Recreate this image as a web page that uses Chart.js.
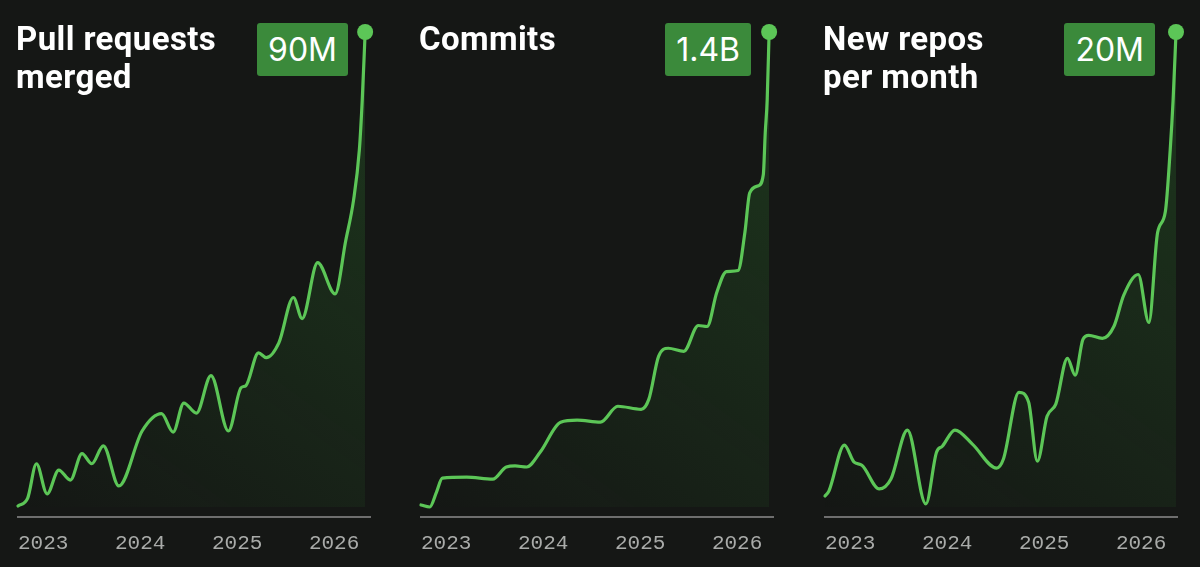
<!DOCTYPE html>
<html>
<head>
<meta charset="utf-8">
<script src="https://cdn.jsdelivr.net/npm/chart.js@4.4.1/dist/chart.umd.min.js"></script>
<style>
  html, body { margin: 0; padding: 0; background: #151715; }
  #wrap { position: relative; width: 1200px; height: 567px; overflow: hidden; }
  .panel { position: absolute; top: 0; width: 400px; height: 567px; }
  .panel canvas { position: absolute; left: 0; top: 0; }
  .title {
    position: absolute; left: 16px; top: 20px; color: #fff; white-space: pre-line;
    font: 700 33px/38px Roboto, sans-serif; letter-spacing: 0.4px;
  }
  .badge {
    position: absolute; right: 52px; top: 23px; height: 53px; padding: 0 11px;
    background: #3b8a3b; border-radius: 3px; color: #fff;
    font: 400 32px/53px Inter, sans-serif;
  }
</style>
</head>
<body>
<div id="wrap"></div>
<script>
// ---- dati ----
const panelTitles = ['Pull requests\nmerged', 'Commits', 'New repos\nper month'];
const badgeLabels = ['90M', '1.4B', '20M'];
const yearTicks = [2023, 2024, 2025, 2026];
const yearLabels = ['2023', '2024', '2025', '2026'];

// pull requests merged (milioni)
const prYears = [2023.00, 2023.10, 2023.19, 2023.30, 2023.42, 2023.54, 2023.66, 2023.76, 2023.88, 2024.04,
  2024.28, 2024.48, 2024.60, 2024.71, 2024.84, 2024.99, 2025.17, 2025.30, 2025.35, 2025.48,
  2025.56, 2025.69, 2025.84, 2025.93, 2026.09, 2026.27, 2026.38, 2026.46, 2026.52, 2026.55, 2026.58];
const prValues = [0.2, 1.7, 8.2, 2.5, 7.0, 5.1, 10.1, 8.2, 11.6, 4.0,
  14.4, 17.7, 14.2, 19.7, 17.8, 24.9, 14.4, 22.6, 23.0, 29.2,
  28.3, 31.1, 39.7, 35.7, 46.3, 40.4, 50.5, 58.1, 67.6, 77.1, 90];

// commits (milioni)
const commitYears = [2023.00, 2023.09, 2023.16, 2023.22, 2023.47, 2023.74, 2023.88, 2023.97, 2024.09, 2024.23,
  2024.44, 2024.61, 2024.85, 2025.03, 2025.27, 2025.35, 2025.45, 2025.55, 2025.71, 2025.86,
  2025.95, 2026.05, 2026.15, 2026.27, 2026.34, 2026.39, 2026.48, 2026.53, 2026.55, 2026.57, 2026.59];
const commitValues = [6, 0, 44, 85, 88, 82, 118, 121, 118, 162,
  250, 256, 250, 297, 288, 318, 444, 468, 459, 535,
  532, 632, 694, 697, 809, 926, 947, 979, 1103, 1200, 1400];

// new repos per month (milioni)
const repoYears = [2023.00, 2023.04, 2023.20, 2023.30, 2023.38, 2023.56, 2023.68, 2023.85, 2024.04, 2024.15,
  2024.21, 2024.34, 2024.52, 2024.77, 2024.84, 2025.00, 2025.10, 2025.19, 2025.29, 2025.38,
  2025.50, 2025.58, 2025.66, 2025.72, 2025.86, 2025.98, 2026.08, 2026.23, 2026.34, 2026.43,
  2026.51, 2026.56, 2026.59, 2026.62];
const repoValues = [0.46, 0.67, 2.61, 1.89, 1.76, 0.76, 1.18, 3.24, 0.13, 2.31,
  2.56, 3.24, 2.65, 1.64, 2.02, 4.83, 4.41, 1.93, 3.82, 4.33,
  6.26, 5.55, 7.06, 7.23, 7.10, 7.61, 8.91, 9.79, 7.77, 11.56,
  12.44, 15.04, 17.14, 20];

const seriesYears = [prYears, commitYears, repoYears];
const seriesValues = [prValues, commitValues, repoValues];

// ---- stile ----
const LINE = '#5cc657';
const panelLeft = [0, 403, 807];

function fillGradient(c) {
  const a = c.chart.chartArea;
  if (!a) return 'rgba(0,0,0,0)';
  const g = c.chart.ctx.createLinearGradient(a.left, a.bottom, a.right, a.top);
  g.addColorStop(0, 'rgba(60,170,60,0.0)');
  g.addColorStop(1, 'rgba(60,170,60,0.22)');
  return g;
}

const wrap = document.getElementById('wrap');

seriesValues.forEach((vals, i) => {
  const panel = document.createElement('div');
  panel.className = 'panel';
  panel.style.left = panelLeft[i] + 'px';

  const canvas = document.createElement('canvas');
  canvas.width = 400;
  canvas.height = 567;
  panel.appendChild(canvas);

  const title = document.createElement('div');
  title.className = 'title';
  title.textContent = panelTitles[i];
  panel.appendChild(title);

  const badge = document.createElement('div');
  badge.className = 'badge';
  badge.textContent = badgeLabels[i];
  panel.appendChild(badge);

  wrap.appendChild(panel);

  const years = seriesYears[i];
  const last = vals.length - 1;
  const top = vals[last];

  new Chart(canvas.getContext('2d'), {
    type: 'line',
    data: {
      datasets: [{
        data: vals.map((v, k) => ({ x: years[k], y: v })),
        borderColor: LINE,
        borderWidth: 3.2,
        borderCapStyle: 'round',
        borderJoinStyle: 'round',
        cubicInterpolationMode: 'monotone',
        fill: { value: 0 },
        backgroundColor: fillGradient,
        pointRadius: (c) => c.dataIndex === last ? 8 : 0,
        pointHoverRadius: 0,
        pointBackgroundColor: LINE,
        pointBorderWidth: 0,
        clip: false
      }]
    },
    options: {
      responsive: false,
      animation: false,
      events: [],
      layout: { padding: { left: 18, right: 30, top: 32, bottom: 0 } },
      plugins: { legend: { display: false }, tooltip: { enabled: false } },
      scales: {
        x: {
          type: 'linear',
          min: 2023,
          max: 2026.63,
          grid: { display: false, drawTicks: false },
          border: { display: true, color: '#6e6e6e', width: 2 },
          afterBuildTicks: (s) => { s.ticks = yearTicks.map(v => ({ value: v })); },
          afterFit: (s) => { s.height = 50; },
          ticks: {
            autoSkip: false,
            maxRotation: 0,
            align: 'start',
            padding: 14,
            color: '#a9aba9',
            font: { family: 'Liberation Mono', size: 21 },
            callback: (v, k) => yearLabels[k]
          }
        },
        y: {
          display: false,
          min: -top * 0.021,
          max: top
        }
      }
    }
  });
});
</script>
</body>
</html>
